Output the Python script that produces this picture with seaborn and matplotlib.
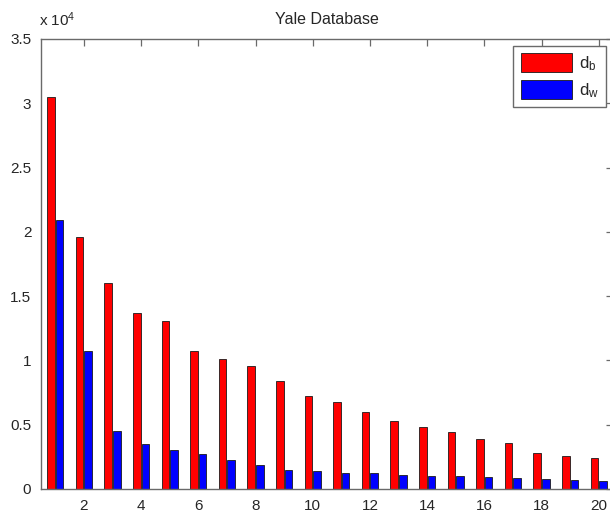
import numpy as np
import pandas as pd
import matplotlib
matplotlib.use("Agg")
import matplotlib.pyplot as plt
import seaborn as sns

# eigenvalue index and the two distance series
index = list(range(1, 21))
d_b = [30500, 19600, 16000, 13700, 13100, 10700, 10100, 9550, 8400, 7250,
       6800, 6000, 5300, 4850, 4400, 3900, 3550, 2800, 2550, 2450]
d_w = [20900, 10700, 4500, 3500, 3000, 2750, 2250, 1850, 1500, 1400,
       1280, 1220, 1100, 1020, 1020, 900, 860, 760, 700, 600]
series_names = ["d$_\\mathrm{b}$", "d$_\\mathrm{w}$"]
xticks = list(range(2, 21, 2))
yticks = [0, 5000, 10000, 15000, 20000, 25000, 30000, 35000]

sns.set_theme(style="white")
plt.rcParams["font.family"] = ["Liberation Sans", "DejaVu Sans"]
plt.rcParams["mathtext.fontset"] = "custom"
plt.rcParams["mathtext.rm"] = "Liberation Sans"
plt.rcParams["mathtext.it"] = "Liberation Sans"

df = pd.DataFrame({
    "idx": index * 2,
    "value": d_b + d_w,
    "series": [series_names[0]] * 20 + [series_names[1]] * 20,
})

fig = plt.figure(figsize=(6.1, 5.13), dpi=100)
ax = fig.add_axes([41 / 610, 24 / 513, 572 / 610, 450 / 513])

sns.barplot(data=df, x="idx", y="value", hue="series", native_scale=True,
            width=0.6, gap=0.12, palette=["#ff0000", "#0000ff"],
            saturation=1, edgecolor="#1a1a1a", linewidth=0.6,
            errorbar=None, ax=ax)

ax.set_xlim(0.5, 20.5)
ax.set_ylim(0, 35000)
ax.set_xticks(xticks)
ax.set_xticklabels([str(t) for t in xticks])
ax.set_yticks(yticks)
ax.set_yticklabels(["%g" % (t / 1e4) for t in yticks])
ax.set_xlabel("")
ax.set_ylabel("")

for s in ax.spines.values():
    s.set_visible(True)
    s.set_color("#6a6a6a")
    s.set_linewidth(1.0)
ax.tick_params(direction="in", top=True, right=True, length=5, width=0.9,
               color="#6a6a6a", labelsize=11, labelcolor="#262626", pad=7)

ax.set_title("Yale Database", fontsize=11.5, color="#262626", pad=11)
ax.text(-0.004, 1.022, "x 10$^{4}$", transform=ax.transAxes, ha="left",
        va="bottom", fontsize=11, color="#262626")

ax.legend(loc="upper right", fontsize=12, frameon=True, fancybox=False,
          edgecolor="#6a6a6a", framealpha=1, handlelength=3.1,
          handleheight=1.4, labelspacing=0.4, borderpad=0.45,
          handletextpad=0.4, borderaxespad=0.4)

fig.savefig("out.png", dpi=100)
